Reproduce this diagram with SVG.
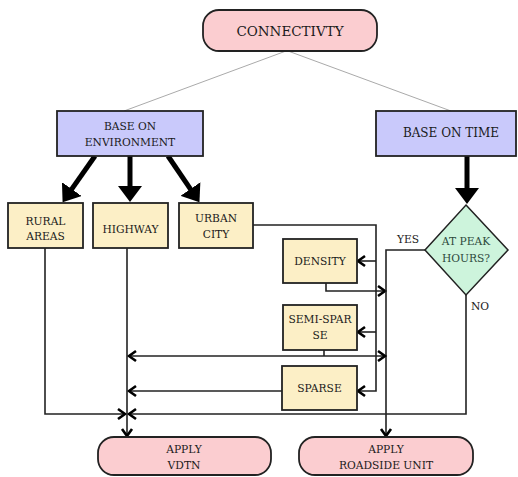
<svg xmlns="http://www.w3.org/2000/svg" width="518" height="477" viewBox="0 0 518 477">
<defs>
<style>
text{font-family:'DejaVu Serif',serif;fill:#1a1a1a;text-anchor:middle}
.t15{font-size:13.5px}.t13{font-size:12px}.t12{font-size:10.7px}
.pink{fill:#fbcdd0;stroke:#222;stroke-width:1.8}
.blue{fill:#c9c9fb;stroke:#222;stroke-width:1.8}
.yel{fill:#fcefc6;stroke:#222;stroke-width:1.8}
.dia{fill:#cdf4dc;stroke:#222;stroke-width:1.5}
.thin{stroke:#aaa;stroke-width:1;fill:none}
.thick{stroke:#000;stroke-width:5;fill:none}
.ln{stroke:#222;stroke-width:1.6;fill:none}
.arr{marker-end:url(#chev)}
.dbl{marker-start:url(#chev);marker-end:url(#chev)}
.big{marker-end:url(#tri)}
</style>
<marker id="tri" viewBox="0 0 16 24" markerUnits="userSpaceOnUse" markerWidth="16" markerHeight="24" refX="1" refY="12" orient="auto"><path d="M0,0 L16,12 L0,24 z" fill="#000"/></marker>
<marker id="chev" viewBox="-2 -2 12 14" markerUnits="userSpaceOnUse" markerWidth="12" markerHeight="14" refX="7" refY="5" orient="auto-start-reverse"><path d="M0,0 L7,5 L0,10" fill="none" stroke="#000" stroke-width="2.6"/></marker>
</defs>
<g id="connectors">
<line class="thin" x1="286" y1="51" x2="124" y2="111"/>
<line class="thin" x1="288" y1="51" x2="451" y2="111"/>
<line class="thick big" x1="95" y1="156" x2="71.2" y2="189.9"/>
<line class="thick big" x1="130" y1="156" x2="130" y2="187"/>
<line class="thick big" x1="168" y1="156" x2="191" y2="189.8"/>
<line class="thick big" x1="467" y1="156" x2="467" y2="189"/>
<polyline class="ln arr" points="253,225 376,225 376,391 358,391"/>
<line class="ln arr" x1="376" y1="261" x2="358" y2="261"/>
<line class="ln arr" x1="376" y1="332" x2="358" y2="332"/>
<polyline class="ln arr" points="326,283 326,291 385,291"/>
<polyline class="ln arr" points="425,250 386,250 386,436"/>
<line class="ln dbl" x1="129" y1="356" x2="385" y2="356"/>
<line class="ln" x1="324" y1="350" x2="324" y2="356"/>
<line class="ln arr" x1="282" y1="391" x2="129" y2="391"/>
<polyline class="ln arr" points="466,295 466,414 129,414"/>
<polyline class="ln arr" points="45,248 45,414 125,414"/>
<line class="ln arr" x1="127" y1="248" x2="127" y2="436"/>
</g>
<g id="connectivity"><rect class="pink" x="203" y="10" width="174" height="41" rx="16"/><text class="t15" x="290" y="36">CONNECTIVTY</text></g>
<g id="base-env"><rect class="blue" x="57" y="111" width="146" height="45"/><text class="t12" x="130" y="130">BASE ON</text><text class="t12" x="130" y="146">ENVIRONMENT</text></g>
<g id="base-time"><rect class="blue" x="376" y="111" width="140" height="45"/><text class="t13" x="451" y="137">BASE ON TIME</text></g>
<g id="rural"><rect class="yel" x="8" y="203" width="75" height="45"/><text class="t12" x="45.500" y="225">RURAL</text><text class="t12" x="45.500" y="240">AREAS</text></g>
<g id="highway"><rect class="yel" x="93" y="203" width="75" height="45"/><text class="t12" x="130.500" y="233">HIGHWAY</text></g>
<g id="urban"><rect class="yel" x="179" y="203" width="74" height="45"/><text class="t12" x="216" y="222">URBAN</text><text class="t12" x="216" y="238">CITY</text></g>
<g id="peak"><polygon class="dia" points="466,205 508,250 466,295 425,250"/><text class="t12" x="466" y="245" style="fill:#2d4a3c">AT PEAK</text><text class="t12" x="466" y="262" style="fill:#2d4a3c">HOURS?</text></g>
<g id="density"><rect class="yel" x="283" y="239" width="74" height="44"/><text class="t12" x="320" y="265">DENSITY</text></g>
<g id="semi-sparse"><rect class="yel" x="283" y="305" width="74" height="45"/><text class="t12" x="320" y="323">SEMI-SPAR</text><text class="t12" x="320" y="339">SE</text></g>
<g id="sparse"><rect class="yel" x="282" y="366" width="75" height="44"/><text class="t12" x="319.500" y="392">SPARSE</text></g>
<g id="vdtn"><rect class="pink" x="98" y="437" width="173" height="38" rx="16"/><text class="t12" x="184" y="453">APPLY</text><text class="t12" x="184" y="469">VDTN</text></g>
<g id="roadside"><rect class="pink" x="299" y="437" width="174" height="38" rx="16"/><text class="t12" x="386" y="453">APPLY</text><text class="t12" x="386" y="469">ROADSIDE UNIT</text></g>
<g id="labels"><text class="t12" x="408" y="243">YES</text><text class="t12" x="480" y="310">NO</text></g>
</svg>
